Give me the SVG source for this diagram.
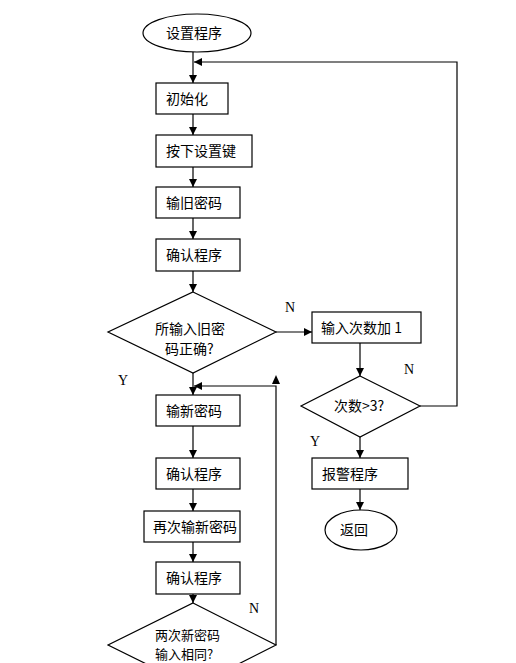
<svg xmlns="http://www.w3.org/2000/svg" width="516" height="663" viewBox="0 0 516 663">
<defs>
<marker id="ah" viewBox="0 0 10 10" refX="10" refY="5" markerWidth="8" markerHeight="8" markerUnits="userSpaceOnUse" orient="auto">
<path d="M0,0 L10,5 L0,10 z" fill="#000"/>
</marker>
<style>
.s{fill:#fff;stroke:#000;stroke-width:1.2}
.t{font-family:"Noto Sans CJK SC","Noto Sans",sans-serif;font-size:14px;fill:#000}
.l{font-family:"Liberation Serif",serif;font-size:14px;fill:#000}
.c{fill:none;stroke:#000;stroke-width:1.2}
</style>
</defs>
<rect width="516" height="663" fill="#fff"/>
<g id="connectors">
<path class="c" d="M193,52 V83" marker-end="url(#ah)"/>
<path class="c" d="M420,406 H457 V62 H194" marker-end="url(#ah)"/>
<path class="c" d="M193,114 V135" marker-end="url(#ah)"/>
<path class="c" d="M193,167 V187" marker-end="url(#ah)"/>
<path class="c" d="M193,218 V239" marker-end="url(#ah)"/>
<path class="c" d="M193,271 V292" marker-end="url(#ah)"/>
<path class="c" d="M276,332 H312" marker-end="url(#ah)"/>
<path class="c" d="M360,343 V376" marker-end="url(#ah)"/>
<path class="c" d="M360,437 V458" marker-end="url(#ah)"/>
<path class="c" d="M360,489 V510" marker-end="url(#ah)"/>
<path class="c" d="M193,373 V395" marker-end="url(#ah)"/>
<path class="c" d="M276,645 V386 H194" marker-end="url(#ah)"/>
<path d="M272,384 L276,375 L280,384 z" fill="#000"/>
<path class="c" d="M193,426 V458" marker-end="url(#ah)"/>
<path class="c" d="M193,489 V511" marker-end="url(#ah)"/>
<path class="c" d="M193,542 V562" marker-end="url(#ah)"/>
<path class="c" d="M193,594 V603" marker-end="url(#ah)"/>
</g>
<g id="start"><ellipse class="s" cx="197" cy="33" rx="54" ry="19"/><text class="t" x="166" y="38">设置程序</text></g>
<g id="init"><rect class="s" x="156" y="83" width="72" height="31"/><text class="t" x="166" y="104">初始化</text></g>
<g id="press"><rect class="s" x="156" y="135" width="96" height="32"/><text class="t" x="166" y="156">按下设置键</text></g>
<g id="oldpw"><rect class="s" x="156" y="187" width="84" height="31"/><text class="t" x="166" y="208">输旧密码</text></g>
<g id="confirm1"><rect class="s" x="156" y="239" width="84" height="32"/><text class="t" x="166" y="260">确认程序</text></g>
<g id="check1"><path class="s" d="M193,292 L276,332 L193,373 L108,332 z"/><text class="t" x="155" y="334">所输入旧密</text><text class="t" x="165" y="354">码正确?</text></g>
<g id="count"><rect class="s" x="312" y="312" width="109" height="31"/><text class="t" x="321" y="333">输入次数加 1</text></g>
<g id="check2"><path class="s" d="M360,376 L420,406 L360,437 L301,406 z"/><text class="t" x="334" y="411">次数&gt;3?</text></g>
<g id="alarm"><rect class="s" x="312" y="458" width="96" height="31"/><text class="t" x="322" y="479">报警程序</text></g>
<g id="ret"><ellipse class="s" cx="361" cy="530" rx="36" ry="20"/><text class="t" x="340" y="535">返回</text></g>
<g id="newpw"><rect class="s" x="156" y="395" width="84" height="31"/><text class="t" x="166" y="416">输新密码</text></g>
<g id="confirm2"><rect class="s" x="156" y="458" width="84" height="31"/><text class="t" x="166" y="479">确认程序</text></g>
<g id="newpw2"><rect class="s" x="144" y="511" width="96" height="31"/><text class="t" x="153" y="532">再次输新密码</text></g>
<g id="confirm3"><rect class="s" x="156" y="562" width="84" height="32"/><text class="t" x="166" y="583">确认程序</text></g>
<g id="check3"><path class="s" d="M193,603 L276,645 L193,687 L108,645 z"/><text class="t" x="155" y="640" style="font-size:13px">两次新密码</text><text class="t" x="155" y="659" style="font-size:13px">输入相同?</text></g>
<g id="labels">
<text class="l" x="285" y="312">N</text>
<text class="l" x="404" y="374">N</text>
<text class="l" x="118" y="385">Y</text>
<text class="l" x="310" y="446">Y</text>
<text class="l" x="249" y="613">N</text>
</g>
</svg>
